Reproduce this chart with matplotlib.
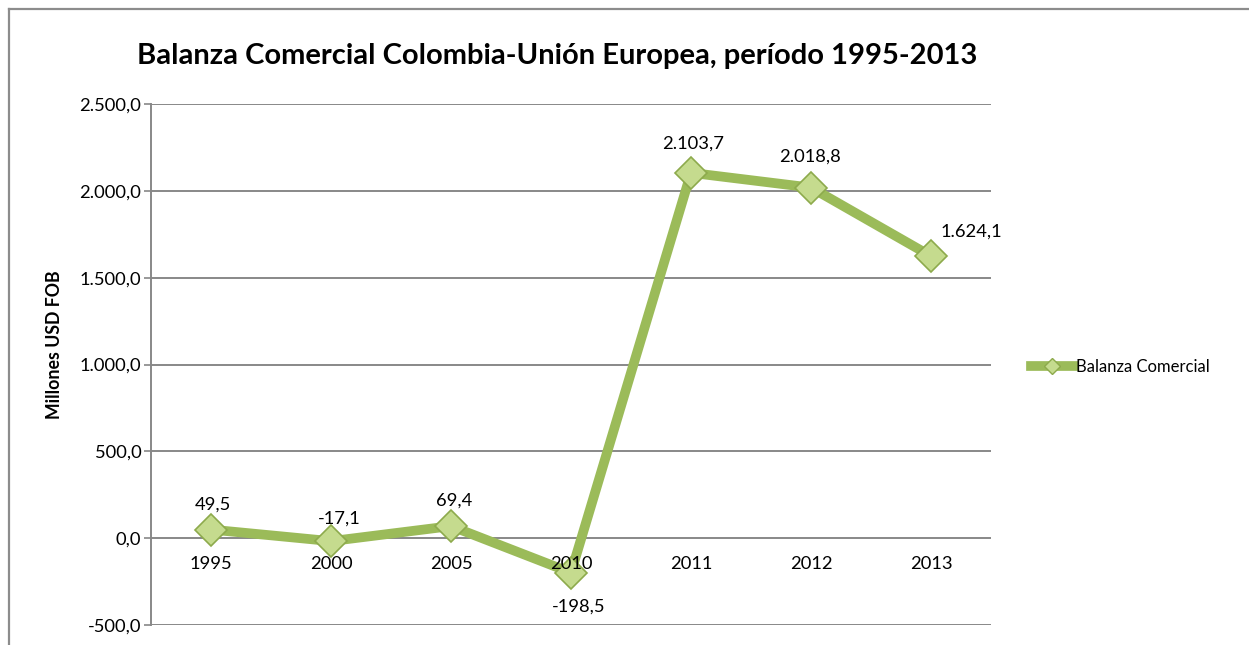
import matplotlib
matplotlib.use("Agg")
import matplotlib.pyplot as plt
from matplotlib.lines import Line2D
from matplotlib.ticker import FuncFormatter, MultipleLocator

# ---- data ----
years = ["1995", "2000", "2005", "2010", "2011", "2012", "2013"]
balanza = [49.5, -17.1, 69.4, -198.5, 2103.7, 2018.8, 1624.1]
series_name = "Balanza Comercial"
title = "Balanza Comercial Colombia-Unión Europea, período 1995-2013"
ylabel = "Millones USD FOB"
label_offsets_px = [(2, 25), (8, 23), (3, 25), (8, -34), (2, 29), (-1, 31), (40, 24)]


def es_fmt(v, decimals=1):
    s = f"{v:,.{decimals}f}"
    return s.replace(",", "X").replace(".", ",").replace("X", ".")


plt.rcParams['font.family'] = ['Lato', 'DejaVu Sans']

W, H = 1249, 645
FS = 13.2
fig = plt.figure(figsize=(W / 100, H / 100), dpi=100)
fig.patch.set_facecolor('white')

ax = fig.add_axes([151 / W, 1 - 625 / H, (991 - 151) / W, (625 - 104) / H])
x = list(range(len(years)))
line_col = '#9BBB59'
ax.plot(x, balanza, color=line_col, lw=7.0, solid_joinstyle='miter', zorder=3,
        marker='D', markersize=16.5, markerfacecolor='#C5DB8E',
        markeredgecolor='#8DAA4C', markeredgewidth=1.2)

ax.set_xlim(-0.5, len(years) - 0.5)
ax.set_ylim(-500, 2500)
ax.yaxis.set_major_locator(MultipleLocator(500))
ax.yaxis.set_major_formatter(FuncFormatter(lambda v, p: es_fmt(v)))
ax.grid(axis='y', color='#888888', lw=1.4)
ax.set_axisbelow(True)
for s in ['top', 'right', 'bottom']:
    ax.spines[s].set_visible(False)
ax.spines['left'].set_color('#888888')
ax.spines['left'].set_linewidth(1.4)
ax.tick_params(axis='y', length=5, color='#888888', width=1.2, labelsize=FS, pad=2)
ax.set_xticks([])

# category labels just below the zero line, drawn on top of markers
for xi, lab in zip(x, years):
    ax.annotate(lab, (xi, 0), xytext=(0, -26), textcoords='offset pixels',
                ha='center', va='center', fontsize=FS, zorder=6)

for xi, v, (dx, dy) in zip(x, balanza, label_offsets_px):
    ax.annotate(es_fmt(v), (xi, v), xytext=(dx, dy), textcoords='offset pixels',
                ha='center', va='center', fontsize=FS, zorder=5)

# y label
fig.text(55 / W, 1 - 345 / H, ylabel, rotation=90, ha='center', va='center',
         fontsize=12.8, fontweight='bold')

# title
fig.text(557 / W, 1 - 56 / H, title, ha='center', va='center',
         fontsize=21, fontweight='bold')

# legend
handle = Line2D([], [], color=line_col, lw=7.0, marker='D', markersize=8,
                markerfacecolor='#C5DB8E', markeredgecolor='#8DAA4C')
fig.legend([handle], [series_name], loc='center left',
           bbox_to_anchor=(1024 / W, 1 - 367 / H), frameon=False,
           fontsize=12, handlelength=2.6, handletextpad=0.1, borderaxespad=0)

# outer frame (top and left)
fig.add_artist(Line2D([9 / W, 9 / W], [0, 1 - 9 / H], color='#8C8C8C', lw=1.6,
                      transform=fig.transFigure))
fig.add_artist(Line2D([9 / W, 1], [1 - 9 / H, 1 - 9 / H], color='#8C8C8C', lw=1.6,
                      transform=fig.transFigure))

fig.savefig('out.png', dpi=100)
